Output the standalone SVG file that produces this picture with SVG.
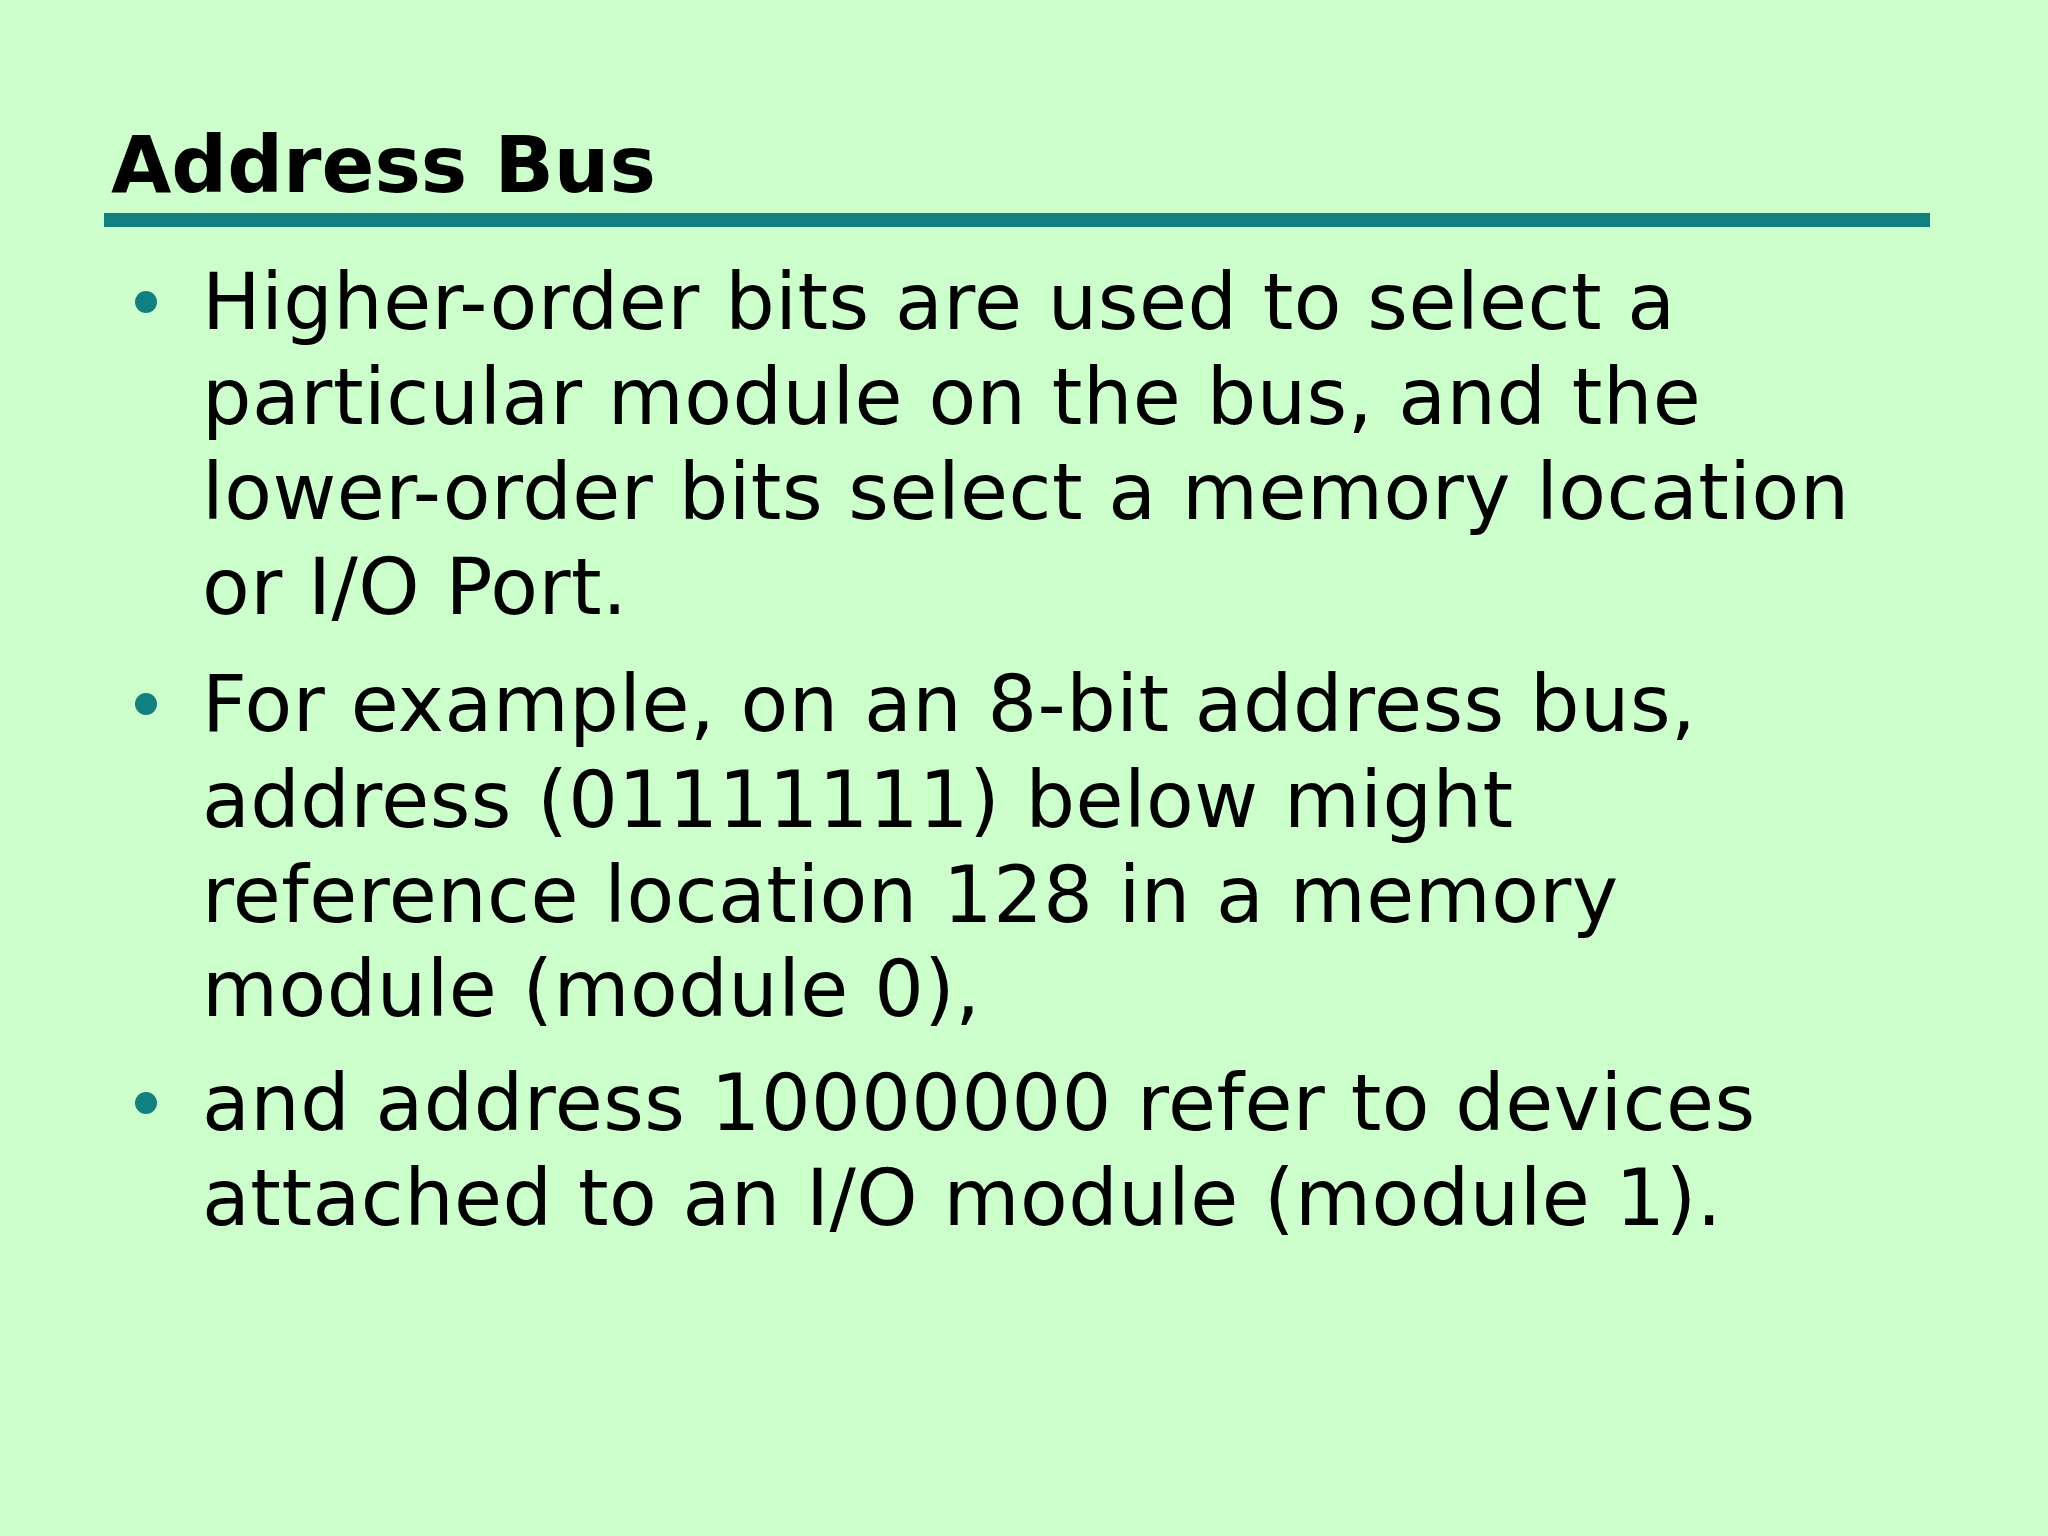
<svg xmlns="http://www.w3.org/2000/svg" width="2048" height="1536" viewBox="0 0 2048 1536">
<style>
.t{font-family:"DejaVu Sans",Verdana,sans-serif;font-size:78px;fill:#000;letter-spacing:0.5px}
.b{fill:#128080}
</style>
<rect width="2048" height="1536" fill="#CCFFCC"/>
<text x="111" y="192" style="font-family:'DejaVu Sans',Verdana,sans-serif;font-size:78px;font-weight:bold">Address Bus</text>
<rect x="104" y="213" width="1826" height="14" fill="#128080"/>
<g id="bullets">
<circle class="b" cx="146" cy="302" r="11"/>
<circle class="b" cx="146" cy="704" r="11"/>
<circle class="b" cx="146" cy="1103" r="11"/>
</g>
<g class="t">
<text x="202" y="329">Higher-order bits are used to select a</text>
<text x="202" y="424">particular module on the bus, and the</text>
<text x="202" y="519">lower-order bits select a memory location</text>
<text x="202" y="614">or I/O Port.</text>
<text x="202" y="731">For example, on an 8-bit address bus,</text>
<text x="202" y="827">address (01111111) below might</text>
<text x="202" y="922">reference location 128 in a memory</text>
<text x="202" y="1016">module (module 0),</text>
<text x="202" y="1130">and address 10000000 refer to devices</text>
<text x="202" y="1225">attached to an I/O module (module 1).</text>
</g>
</svg>
